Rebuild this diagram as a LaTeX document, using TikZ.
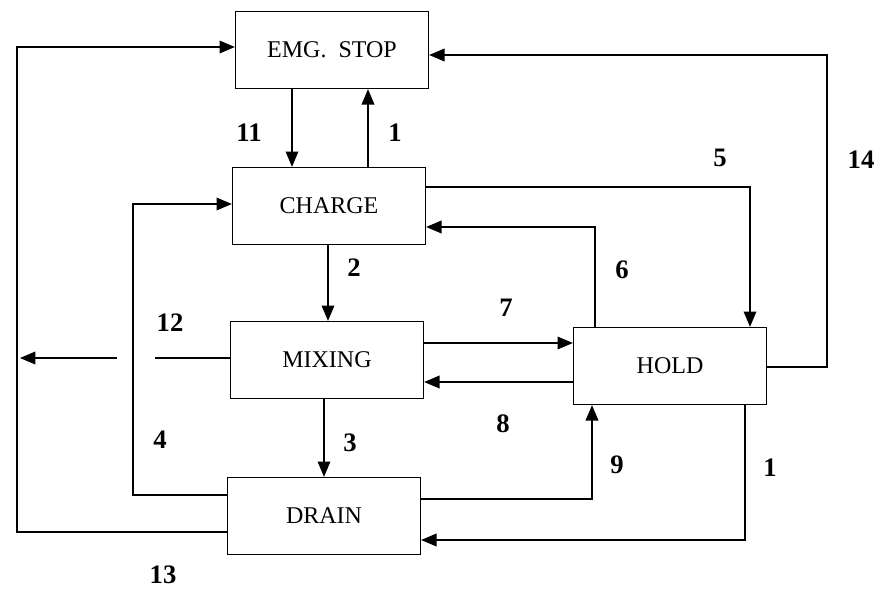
\documentclass[tikz,border=0pt]{standalone}
\usepackage{fontspec}
\setmainfont{Liberation Serif}
\usetikzlibrary{arrows.meta}
\begin{document}
\begin{tikzpicture}[x=0.75pt,y=-0.75pt,
  box/.style={draw, line width=1pt, minimum width=144.75pt, minimum height=57.75pt, inner sep=0pt, font=\fontsize{18}{20}\selectfont},
  lab/.style={font=\bfseries\fontsize{20}{24}\selectfont, inner sep=0pt},
  conn/.style={line width=1pt, -{Triangle[length=11.5pt,width=9.5pt]}},
  plain/.style={line width=1pt}]
\useasboundingbox (0,0) rectangle (881,589);
\fill[white] (0,0) rectangle (881,589);
% boxes
\node[box] (emg) at (332,50) {EMG.\ \ STOP};
\node[box] (charge) at (329,206) {CHARGE};
\node[box] (mixing) at (327,360) {MIXING};
\node[box] (hold) at (670,366) {HOLD};
\node[box] (drain) at (324,516) {DRAIN};
% columns
\coordinate (c11) at (292,0);
\coordinate (c1) at (368,0);
\coordinate (c2) at (328,0);
\coordinate (c3) at (324,0);
\coordinate (c6) at (595,0);
\coordinate (c5) at (750,0);
\coordinate (c9) at (592,0);
\coordinate (c1b) at (745,0);
\coordinate (c14) at (827,0);
\coordinate (c4) at (133,0);
\coordinate (c13) at (17,0);
% rows
\coordinate (r13) at (0,532);
\coordinate (r4) at (0,495);
\coordinate (rc4) at (0,204);
\coordinate (r12) at (0,358);
\coordinate (r5) at (0,187);
\coordinate (r6) at (0,227);
\coordinate (r14) at (0,367);
\coordinate (re14) at (0,55);
\coordinate (r7) at (0,343);
\coordinate (r8) at (0,382);
\coordinate (r9) at (0,499);
\coordinate (r1b) at (0,540);
\coordinate (re13) at (0,47);
\coordinate (g1) at (155,358);
\coordinate (g2) at (117,358);
\coordinate (tip12) at (20,358);
% connectors
\draw[conn] (c11 |- emg.south) -- (c11 |- charge.north);
\draw[conn] (c1 |- charge.north) -- (c1 |- emg.south);
\draw[conn] (c2 |- charge.south) -- (c2 |- mixing.north);
\draw[conn] (c3 |- mixing.south) -- (c3 |- drain.north);
\draw[conn] (mixing.east |- r7) -- (hold.west |- r7);
\draw[conn] (hold.west |- r8) -- (mixing.east |- r8);
\draw[conn] (charge.east |- r5) -| (c5 |- hold.north);
\draw[conn] (c6 |- hold.north) |- (charge.east |- r6);
\draw[conn] (hold.east |- r14) -| (c14 |- re14) -- (emg.east |- re14);
\draw[conn] (drain.east |- r9) -| (c9 |- hold.south);
\draw[conn] (c1b |- hold.south) |- (drain.east |- r1b);
\draw[conn] (drain.west |- r4) -| (c4 |- rc4) -- (charge.west |- rc4);
\draw[conn] (drain.west |- r13) -| (c13 |- re13) -- (emg.west |- re13);
\draw[plain] (mixing.west |- r12) -- (g1);
\draw[conn] (g2) -- (tip12);
% labels
\node[lab] (l11) at (249,133) {11};
\node[lab] (l1) at (395,133) {1};
\node[lab] (l5) at (720,158) {5};
\node[lab] (l14) at (861,160) {14};
\node[lab] (l2) at (354,268) {2};
\node[lab] (l6) at (622,270) {6};
\node[lab] (l7) at (506,308) {7};
\node[lab] (l12) at (170,323) {12};
\node[lab] (l8) at (503,424) {8};
\node[lab] (l4) at (160,440) {4};
\node[lab] (l3) at (350,443) {3};
\node[lab] (l9) at (617,465) {9};
\node[lab] (l1b) at (770,468) {1};
\node[lab] (l13) at (163,575) {13};
\end{tikzpicture}
\end{document}
